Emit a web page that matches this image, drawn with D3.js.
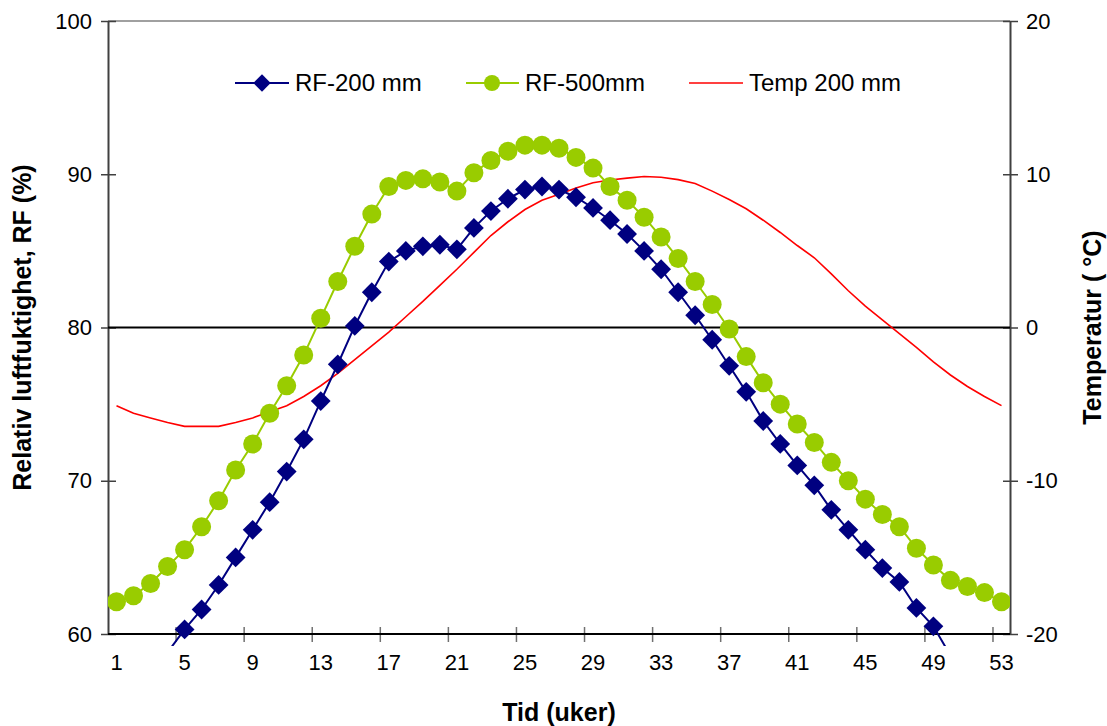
<!DOCTYPE html>
<html>
<head>
<meta charset="utf-8">
<script src="https://cdn.jsdelivr.net/npm/d3@7"></script>
<style>
  html, body { margin: 0; padding: 0; background: #fff; }
  svg { display: block; font-family: "Liberation Sans", Arial, sans-serif; }
</style>
</head>
<body>
<svg id="chart" width="1107" height="726"></svg>
<script>
// ---------- data ----------
const weeks = d3.range(1, 54);
const xTickLabels = [1, 5, 9, 13, 17, 21, 25, 29, 33, 37, 41, 45, 49, 53];
const leftTicks = [60, 70, 80, 90, 100];
const rightTicks = [-20, -10, 0, 10, 20];

// RF-200 mm (%), weeks 1..53 (null = below the axis, not readable)
const rf200 = [null, null, null, 58.8, 60.3, 61.6, 63.2, 65.0, 66.8, 68.6,
  70.6, 72.7, 75.2, 77.6, 80.1, 82.3, 84.3, 85.0, 85.3, 85.4,
  85.1, 86.5, 87.6, 88.4, 89.0, 89.2, 89.0, 88.5, 87.8, 87.0,
  86.1, 85.0, 83.8, 82.3, 80.8, 79.2, 77.5, 75.8, 73.9, 72.4,
  71.0, 69.7, 68.1, 66.8, 65.5, 64.3, 63.4, 61.7, 60.5, 58.6,
  null, null, null];

// RF-500 mm (%)
const rf500 = [62.1, 62.5, 63.3, 64.4, 65.5, 67.0, 68.7, 70.7, 72.4, 74.4,
  76.2, 78.2, 80.6, 83.0, 85.3, 87.4, 89.2, 89.6, 89.7, 89.5,
  88.9, 90.1, 90.9, 91.5, 91.9, 91.9, 91.7, 91.1, 90.4, 89.2,
  88.3, 87.2, 85.9, 84.5, 83.0, 81.5, 79.9, 78.1, 76.4, 75.0,
  73.7, 72.5, 71.2, 70.0, 68.8, 67.8, 67.0, 65.6, 64.5, 63.5,
  63.1, 62.7, 62.1];

// Temp 200 mm (°C)
const temp200 = [-5.1, -5.6, -5.9, -6.2, -6.45, -6.45, -6.45, -6.2, -5.9, -5.5,
  -5.1, -4.5, -3.8, -3.0, -2.1, -1.2, -0.3, 0.7, 1.7, 2.75,
  3.8, 4.9, 6.0, 6.9, 7.7, 8.3, 8.7, 9.1, 9.45, 9.63,
  9.75, 9.85, 9.8, 9.65, 9.4, 8.9, 8.35, 7.75, 7.0, 6.2,
  5.35, 4.55, 3.5, 2.4, 1.4, 0.5, -0.4, -1.3, -2.25, -3.1,
  -3.85, -4.5, -5.1];

const seriesNames = ["RF-200 mm", "RF-500mm", "Temp 200 mm"];

// ---------- layout ----------
const L = 108, R = 1010, T = 21, B = 634;
const NAVY = "#000080", GREEN = "#99CC00", RED = "#FF0000";
const FONT = 22, TITLE_FONT = 25, LEGEND_FONT = 24;
const FF = "'Liberation Sans', Arial, sans-serif";
const fmt = d => String(d);   // plain hyphen-minus as in the reference

const svg = d3.select("#chart");

const x = d3.scaleBand().domain(weeks).range([L, R]).padding(0);
const cx = w => x(w) + x.bandwidth() / 2;
const yL = d3.scaleLinear().domain([60, 100]).range([B, T]);
const yR = d3.scaleLinear().domain([-20, 20]).range([B, T]);

// clip (lines can run a little below the plot floor as in the reference)
svg.append("defs").append("clipPath").attr("id", "clip")
  .append("rect").attr("x", L).attr("y", T).attr("width", R - L).attr("height", B - T + 12);

// plot border top
svg.append("line").attr("x1", L).attr("x2", R).attr("y1", T).attr("y2", T)
  .attr("stroke", "#808080").attr("stroke-width", 1.5);

// ---------- axes ----------
// left axis
const gL = svg.append("g").attr("transform", `translate(${L},0)`)
  .call(d3.axisLeft(yL).tickValues(leftTicks).tickFormat(fmt).tickSize(0).tickPadding(16));
gL.select(".domain").attr("stroke", "#404040").attr("stroke-width", 2);
gL.selectAll("text").attr("font-size", FONT).attr("fill", "#000").attr("font-family", FF);
gL.selectAll(".tick").append("line").attr("x1", -7).attr("x2", 8)
  .attr("stroke", "#404040").attr("stroke-width", 1.5);

// right axis
const gR = svg.append("g").attr("transform", `translate(${R},0)`)
  .call(d3.axisRight(yR).tickValues(rightTicks).tickFormat(fmt).tickSize(0).tickPadding(16));
gR.select(".domain").attr("stroke", "#404040").attr("stroke-width", 2);
gR.selectAll("text").attr("font-size", FONT).attr("fill", "#000").attr("font-family", FF);
gR.selectAll(".tick").append("line").attr("x1", -7).attr("x2", 8)
  .attr("stroke", "#404040").attr("stroke-width", 1.5);

// bottom axis (category)
const gB = svg.append("g").attr("transform", `translate(0,${B})`)
  .call(d3.axisBottom(x).tickValues(xTickLabels).tickFormat(fmt).tickSize(0).tickPadding(20));
gB.select(".domain").remove();
gB.selectAll("text").attr("font-size", FONT).attr("fill", "#000").attr("font-family", FF);
// tick marks between categories every 4 weeks
const boundaryWeeks = weeks.filter(w => (w - 1) % 4 === 0 && w > 1);
svg.append("g").selectAll("line").data(boundaryWeeks).join("line")
  .attr("x1", w => x(w)).attr("x2", w => x(w))
  .attr("y1", B - 7).attr("y2", B + 8)
  .attr("stroke", "#707070").attr("stroke-width", 1.5);
svg.append("line").attr("x1", L).attr("x2", R).attr("y1", B).attr("y2", B)
  .attr("stroke", "#000").attr("stroke-width", 2);

// secondary horizontal axis at 0 °C
svg.append("line").attr("x1", L).attr("x2", R).attr("y1", yR(0)).attr("y2", yR(0))
  .attr("stroke", "#000").attr("stroke-width", 2);

// axis titles
svg.append("text").attr("transform", `translate(31,${(T + B) / 2}) rotate(-90)`)
  .attr("text-anchor", "middle").attr("font-weight", "bold").attr("font-size", TITLE_FONT)
  .text("Relativ luftfuktighet, RF (%)");
svg.append("text").attr("transform", `translate(1101,${(T + B) / 2}) rotate(-90)`)
  .attr("text-anchor", "middle").attr("font-weight", "bold").attr("font-size", TITLE_FONT)
  .text("Temperatur ( °C)");
svg.append("text").attr("x", (L + R) / 2).attr("y", 721)
  .attr("text-anchor", "middle").attr("font-weight", "bold").attr("font-size", TITLE_FONT)
  .text("Tid (uker)");

// ---------- series ----------
const plot = svg.append("g").attr("clip-path", "url(#clip)");

const lineL = d3.line().defined(d => d.v != null).x(d => cx(d.w)).y(d => yL(d.v));
const lineR = d3.line().defined(d => d.v != null).x(d => cx(d.w)).y(d => yR(d.v));

const d200 = weeks.map((w, i) => ({ w, v: rf200[i] }));
const d500 = weeks.map((w, i) => ({ w, v: rf500[i] }));
const dT = weeks.map((w, i) => ({ w, v: temp200[i] }));

plot.append("path").datum(dT).attr("d", lineR)
  .attr("fill", "none").attr("stroke", RED).attr("stroke-width", 1.6);

plot.append("path").datum(d500).attr("d", lineL)
  .attr("fill", "none").attr("stroke", GREEN).attr("stroke-width", 2);
plot.append("g").selectAll("circle").data(d500.filter(d => d.v != null && d.v >= 60)).join("circle")
  .attr("cx", d => cx(d.w)).attr("cy", d => yL(d.v)).attr("r", 9.5).attr("fill", GREEN);

plot.append("path").datum(d200).attr("d", lineL)
  .attr("fill", "none").attr("stroke", NAVY).attr("stroke-width", 2);
const diamond = d3.symbol().type(d3.symbolSquare).size(196);
plot.append("g").selectAll("path").data(d200.filter(d => d.v != null && d.v >= 60)).join("path")
  .attr("d", diamond)
  .attr("transform", d => `translate(${cx(d.w)},${yL(d.v)}) rotate(45)`)
  .attr("fill", NAVY);

// ---------- legend ----------
const legY = 83;
const lg = svg.append("g").attr("font-size", LEGEND_FONT);
// RF-200
lg.append("line").attr("x1", 235).attr("x2", 289).attr("y1", legY).attr("y2", legY)
  .attr("stroke", NAVY).attr("stroke-width", 2);
lg.append("path").attr("d", d3.symbol().type(d3.symbolSquare).size(150))
  .attr("transform", `translate(262,${legY}) rotate(45)`).attr("fill", NAVY);
lg.append("text").attr("x", 295).attr("y", legY).attr("dy", "0.35em").text(seriesNames[0]);
// RF-500
lg.append("line").attr("x1", 466).attr("x2", 519).attr("y1", legY).attr("y2", legY)
  .attr("stroke", GREEN).attr("stroke-width", 2);
lg.append("circle").attr("cx", 492).attr("cy", legY).attr("r", 8).attr("fill", GREEN);
lg.append("text").attr("x", 525).attr("y", legY).attr("dy", "0.35em").text(seriesNames[1]);
// Temp
lg.append("line").attr("x1", 689).attr("x2", 743).attr("y1", legY).attr("y2", legY)
  .attr("stroke", RED).attr("stroke-width", 1.6);
lg.append("text").attr("x", 749).attr("y", legY).attr("dy", "0.35em").text(seriesNames[2]);
</script>
</body>
</html>
